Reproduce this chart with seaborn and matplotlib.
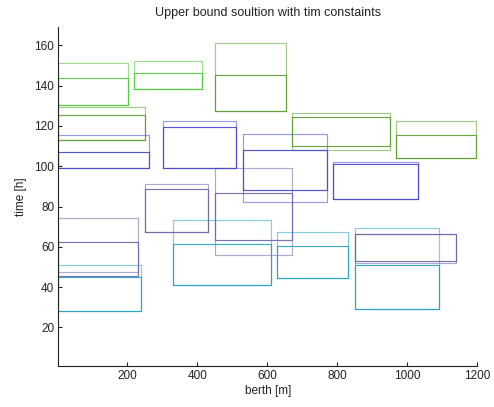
import numpy as np
import pandas as pd
import matplotlib
matplotlib.use("Agg")
import matplotlib.pyplot as plt
import seaborn as sns

# Berth occupation of each vessel: quay segment [berth_start, berth_end] in metres
ships = ["G1", "G2", "G3", "G4", "G5", "G6",
         "B1", "B2", "B3", "B4",
         "P1", "P2", "P3", "P4",
         "C1", "C2", "C3", "C4"]
berth_start = [3, 220, 3, 450, 671, 969,
               3, 301, 531, 789,
               3, 251, 450, 850,
               3, 331, 629, 850]
berth_end = [203, 413, 251, 653, 950, 1197,
             263, 511, 771, 1030,
             231, 431, 671, 1140,
             240, 611, 831, 1091]

# Upper-bound time window (hours)
window_start = [130.3, 138.3, 112.9, 127.4, 108.0, 104.1,
                99.3, 99.3, 82.2, 83.9,
                47.3, 67.3, 55.9, 52.0,
                28.0, 41.1, 44.3, 28.9]
window_end = [151.2, 152.4, 129.4, 161.2, 126.6, 122.4,
              115.4, 122.4, 116.2, 102.1,
              74.1, 91.3, 99.2, 66.2,
              50.9, 73.1, 67.2, 69.2]

# Scheduled handling time (hours)
service_start = [130.3, 138.3, 112.9, 127.4, 110.1, 104.1,
                 99.3, 99.3, 88.4, 83.9,
                 45.4, 67.3, 63.3, 53.0,
                 28.0, 41.1, 44.3, 28.9]
service_end = [143.6, 146.3, 125.4, 145.4, 124.6, 115.6,
               107.0, 119.4, 108.0, 101.3,
               62.3, 88.5, 86.6, 66.2,
               45.1, 61.2, 60.3, 50.9]

ship_colors = ["#4fc83a", "#4fc83a", "#5a9e2e", "#5a9e2e", "#5a9e2e", "#5a9e2e",
               "#4545cc", "#4545cc", "#4545cc", "#4545cc",
               "#6e64a4", "#6e64a4", "#6e64a4", "#6e64a4",
               "#21a4c2", "#21a4c2", "#21a4c2", "#21a4c2"]

x_ticks = [200, 400, 600, 800, 1000, 1200]
y_ticks = [20, 40, 60, 80, 100, 120, 140, 160]


def outlines(t0, t1):
    """Closed rectangle outlines (5 vertices each) for every ship."""
    rows = []
    for s, xa, xb, ya, yb in zip(ships, berth_start, berth_end, t0, t1):
        for k, (px, py) in enumerate([(xa, ya), (xb, ya), (xb, yb), (xa, yb), (xa, ya)]):
            rows.append({"ship": s, "order": k, "berth": px, "time": py})
    return pd.DataFrame(rows)


window_df = outlines(window_start, window_end)
service_df = outlines(service_start, service_end)
palette = dict(zip(ships, ship_colors))

sns.set_theme(style="ticks")
plt.rcParams["font.family"] = ["Liberation Sans", "DejaVu Sans"]

fig, ax = plt.subplots(figsize=(4.94, 4.07), dpi=100)
fig.subplots_adjust(left=0.118, right=0.966, bottom=0.1015, top=0.933)

sns.lineplot(data=window_df, x="berth", y="time", hue="ship", palette=palette,
             units="ship", estimator=None, sort=False, legend=False,
             linewidth=0.85, alpha=0.55, ax=ax)
sns.lineplot(data=service_df, x="berth", y="time", hue="ship", palette=palette,
             units="ship", estimator=None, sort=False, legend=False,
             linewidth=0.85, alpha=0.9, ax=ax)

ax.set_xlim(3, 1200)
ax.set_ylim(1, 169)
ax.set_xticks(x_ticks)
ax.set_yticks(y_ticks)
ax.tick_params(direction="in", length=3, width=0.8, labelsize=8.5,
               colors="#222222", pad=3)
for side in ("top", "right"):
    ax.spines[side].set_visible(False)
for side in ("left", "bottom"):
    ax.spines[side].set_color("#222222")
    ax.spines[side].set_linewidth(0.8)

ax.set_xlabel("berth [m]", fontsize=8.5, color="#222222", labelpad=2)
ax.set_ylabel("time [h]", fontsize=8.5, color="#222222", labelpad=5)
ax.set_title("Upper bound soultion with tim constaints", fontsize=9,
             color="#222222", pad=8)

fig.savefig("out.png", dpi=100)
